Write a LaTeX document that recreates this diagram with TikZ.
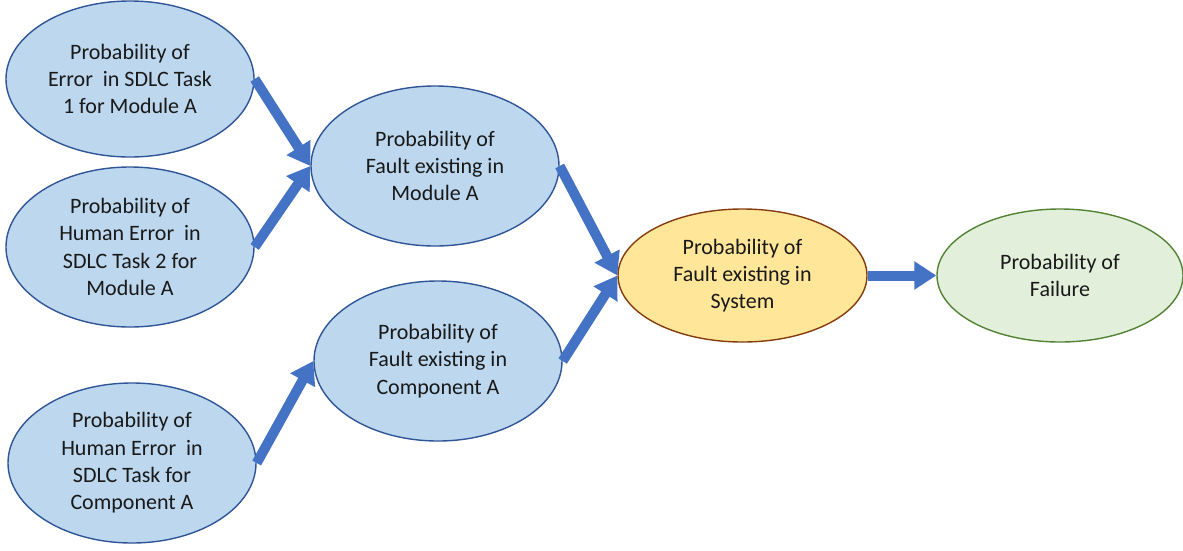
\documentclass[tikz,border=0pt]{standalone}
\usepackage{fontspec}
\setmainfont{Carlito}
\usetikzlibrary{shapes.geometric,arrows.meta}
\definecolor{nodeblue}{HTML}{BDD7EE}
\definecolor{edgeblue}{HTML}{2F5597}
\definecolor{arrowblue}{HTML}{4472C4}
\definecolor{sysfill}{HTML}{FFE699}
\definecolor{sysedge}{HTML}{843C0C}
\definecolor{failfill}{HTML}{E2EFDA}
\definecolor{failedge}{HTML}{548235}
% a slightly wider word gap, as typed with two spaces
\newcommand{\wgap}{\hspace{0.45em}}
\begin{document}
\begin{tikzpicture}[x=1pt,y=-1pt,
  oval/.style={ellipse, draw=edgeblue, fill=nodeblue, line width=1.4pt,
    minimum width=248pt, minimum height=160pt, inner sep=0pt, align=center,
    font=\fontsize{22}{27.3}\selectfont, text=black!90},
  sysoval/.style={oval, draw=sysedge, fill=sysfill, minimum width=249pt, minimum height=133pt},
  failoval/.style={oval, draw=failedge, fill=failfill, minimum width=246pt, minimum height=133pt},
  flow/.style={draw=arrowblue, line width=10pt, -{Triangle[length=22pt,width=27pt]}}]
\useasboundingbox (0,0) rectangle (1183,550);

% input estimates
\node[oval, minimum height=156pt] (taskone) at (130,79) {Probability of\\Error\wgap in SDLC Task\\1 for Module A};
\node[oval] (tasktwo) at (130,247) {Probability of\\Human Error\wgap in\\SDLC Task 2 for\\Module A};
\node[oval] (taskcomp) at (132,463) {Probability of\\Human Error\wgap in\\SDLC Task for\\Component A};

% intermediate fault nodes
\node[oval] (module) at (435,166) {Probability of\\Fault existing in\\Module A};
\node[oval] (component) at (438,361) {Probability of\\Fault existing in\\Component A};

% system and outcome
\node[sysoval] (system) at (742.5,275.5) {Probability of\\Fault existing in\\System};
\node[failoval] (failure) at (1060,275.5) {Probability of\\Failure};

% propagation arrows
\draw[flow] (taskone.east) -- (module.west);
\draw[flow] (tasktwo.east) -- (module.west);
\draw[flow] (taskcomp.east) -- (component.west);
\draw[flow] (module.east) -- (system.west);
\draw[flow] (component.east) -- (system.west);
\draw[flow] (system.east) -- (failure.west);
\end{tikzpicture}
\end{document}
